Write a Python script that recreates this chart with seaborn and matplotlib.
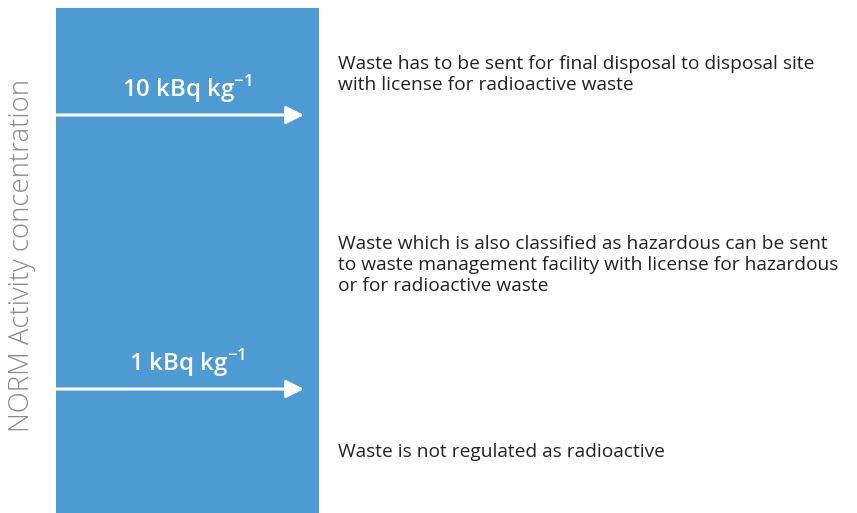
import matplotlib
matplotlib.use("Agg")
import matplotlib.pyplot as plt
import seaborn as sns

# === data ===
thresholds = ["10 kBq kg$^{\\mathregular{-1}}$", "1 kBq kg$^{\\mathregular{-1}}$"]
threshold_pos = [115, 389]          # y position (px, from top) of each limit arrow
descriptions = [
    "Waste has to be sent for final disposal to disposal site\nwith license for radioactive waste",
    "Waste which is also classified as hazardous can be sent\nto waste management facility with license for hazardous\nor for radioactive waste",
    "Waste is not regulated as radioactive",
]
description_pos = [64, 244, 452]    # y of first line of each description
axis_label = "NORM Activity concentration"

sns.set_theme(style="white")
plt.rcParams['font.family'] = ['Open Sans', 'DejaVu Sans']
plt.rcParams['mathtext.fontset'] = 'custom'
plt.rcParams['mathtext.rm'] = 'Open Sans'

W, H = 857, 513
fig = plt.figure(figsize=(W / 100, H / 100), dpi=100)
ax = fig.add_axes([0, 0, 1, 1])
ax.set_xlim(0, W)
ax.set_ylim(H, 0)
ax.axis("off")

blue = "#4e9bd4"
# the concentration column
ax.bar([187.5], [H - 8], bottom=8, width=263, color=blue, linewidth=0)

for lab, y in zip(thresholds, threshold_pos):
    ax.annotate("", xy=(304, y), xytext=(56, y),
                arrowprops=dict(arrowstyle="-|>,head_length=0.9,head_width=0.45",
                                color="white", lw=2.2, shrinkA=0, shrinkB=0))
    ax.text(187, y - 26, lab, color="white", fontsize=17.3, fontweight="semibold",
            ha="center", va="center")

for txt, y in zip(descriptions, description_pos):
    ax.text(338, y - 9, txt, color="#222222", fontsize=13.8, ha="left", va="top",
            linespacing=1.22)

ax.text(22, 256, axis_label, color="#8a8a8a", fontsize=19.8, rotation=90,
        fontweight="light", ha="center", va="center")

fig.savefig("out.png", dpi=100)
